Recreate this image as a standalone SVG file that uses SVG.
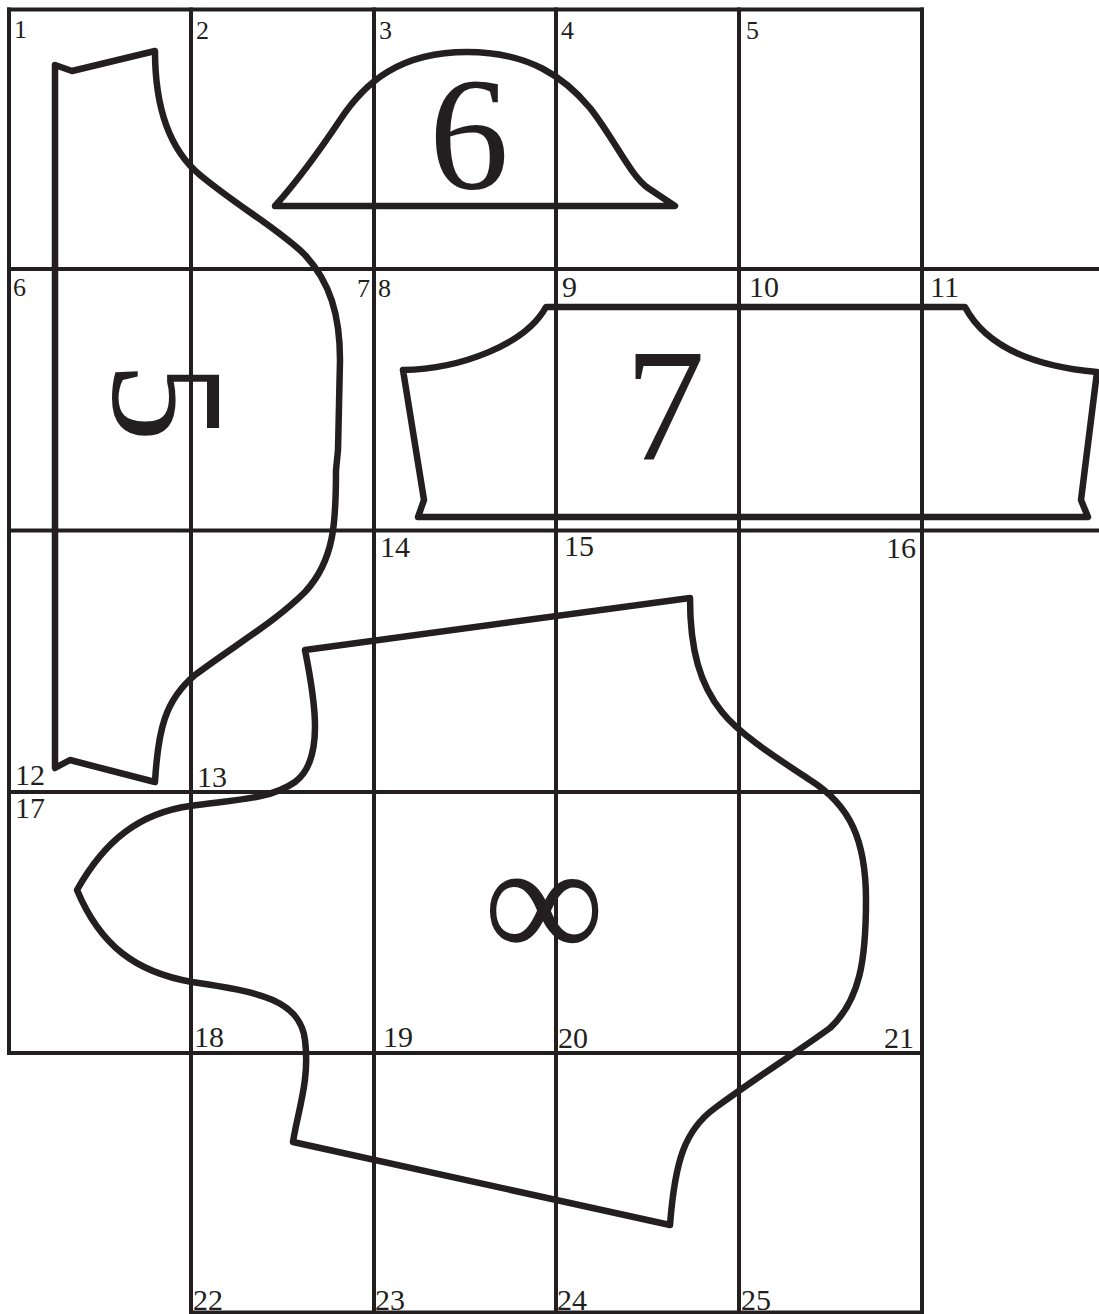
<svg xmlns="http://www.w3.org/2000/svg" width="1099" height="1314" viewBox="0 0 1099 1314">
<style>
.grid{fill:none;stroke:#231f20;stroke-width:4;stroke-linecap:square}
.shape{fill:none;stroke:#231f20;stroke-width:6.5;stroke-linejoin:round;stroke-linecap:round}
.lbl{font-family:"Liberation Serif","Times New Roman",serif;fill:#231f20;font-size:26px}
.lbl2{font-family:"Liberation Serif","Times New Roman",serif;fill:#231f20;font-size:30px}
.big{font-family:"Liberation Serif","Times New Roman",serif;fill:#231f20;font-size:160px;text-anchor:middle}
</style>
<rect width="1099" height="1314" fill="#ffffff"/>
<g id="grid">
<path class="grid" d="M9,9.5 V1053 M191,9.5 V1312.5 M374,9.5 V1312.5 M556,9.5 V1312.5 M739,9.5 V1312.5 M922,9.5 V1312.5"/>
<path class="grid" d="M9,9.5 H922 M9,269 H1099 M9,530.5 H1099 M9,792 H922 M9,1053 H922 M191,1312.5 H922"/>
</g>
<g id="labels">
<text class="lbl" x="14" y="38">1</text>
<text class="lbl" x="196" y="39">2</text>
<text class="lbl" x="379" y="39">3</text>
<text class="lbl" x="561" y="39">4</text>
<text class="lbl" x="746" y="39">5</text>
<text class="lbl" x="13" y="296">6</text>
<text class="lbl" x="370" y="297" text-anchor="end">7</text>
<text class="lbl" x="378" y="297">8</text>
<text class="lbl2" x="562" y="297">9</text>
<text class="lbl2" x="749" y="297">10</text>
<text class="lbl2" x="930" y="297">11</text>
<text class="lbl2" x="380" y="557">14</text>
<text class="lbl2" x="564" y="556">15</text>
<text class="lbl2" x="916" y="558" text-anchor="end">16</text>
<text class="lbl2" x="15" y="785">12</text>
<text class="lbl2" x="197" y="787">13</text>
<text class="lbl2" x="15" y="818">17</text>
<text class="lbl2" x="194" y="1047">18</text>
<text class="lbl2" x="383" y="1047">19</text>
<text class="lbl2" x="558" y="1048">20</text>
<text class="lbl2" x="914" y="1048" text-anchor="end">21</text>
<text class="lbl2" x="193" y="1310">22</text>
<text class="lbl2" x="375" y="1310">23</text>
<text class="lbl2" x="557" y="1310">24</text>
<text class="lbl2" x="741" y="1310">25</text>
</g>
<g id="piece5">
<path class="shape" d="M55,65 L72,71 L155,51 C155,110 170,150 200,175 C240,208 280,230 305,255 C330,282 340,315 340,360 L338,450 L336,470 C336,520 335,560 305,592 C275,622 235,645 195,675 C165,700 158,730 155,782 L70,760 L55,768 Z"/>
<g transform="translate(168,402) rotate(90)"><text class="big" x="0" y="54">5</text></g>
</g>
<g id="piece6">
<path class="shape" d="M275,206 C300,178 320,150 340,120 C365,82 400,52 467,52 C530,52 565,78 590,108 C615,140 630,175 648,188 L675,206 Z"/>
<text class="big" x="469" y="188">6</text>
</g>
<g id="piece7">
<path class="shape" d="M546,307 L965,307 C985,345 1030,366 1097,372 L1081,500 L1088,517 L418,517 L424,500 L403,370 C460,369 525,345 546,307 Z"/>
<text class="big" x="665" y="460">7</text>
</g>
<g id="piece8">
<path class="shape" d="M305,650 L690,598 C690,650 700,685 722,712 C740,735 780,760 810,780 C850,805 866,840 866,900 C866,960 860,1000 830,1028 C800,1050 760,1075 715,1108 C685,1130 675,1160 670,1225 L293,1142 C298,1110 310,1080 305,1040 C300,1000 260,992 192,982 C135,972 100,945 77,890 C105,840 140,813 190,806 C230,800 270,800 295,782 C325,760 315,700 305,650 Z"/>
<text class="big" x="544" y="960" style="font-size:170px">∞</text>
</g>
</svg>
